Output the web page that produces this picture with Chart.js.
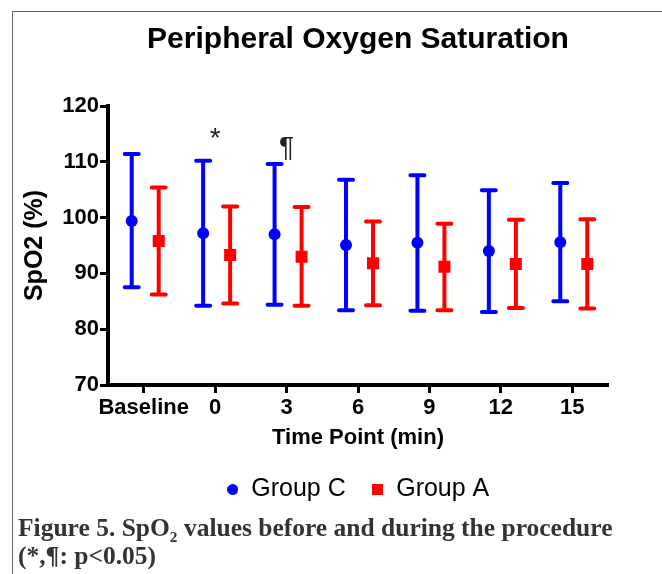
<!DOCTYPE html>
<html>
<head>
<meta charset="utf-8">
<script src="https://cdn.jsdelivr.net/npm/chart.js@4.4.0/dist/chart.umd.min.js"></script>
<style>
  html, body { margin: 0; padding: 0; background: #fff; }
  #wrap { position: relative; width: 662px; height: 574px; overflow: hidden; }
  #frame {
    position: absolute; left: 12px; top: 11px; right: -10px; bottom: -10px;
    border-top: 1.5px solid #666; border-left: 1.5px solid #666;
  }
  #box { position: absolute; left: 0; top: 0; width: 662px; height: 574px; }
  #caption {
    position: absolute; left: 18px; top: 514px;
    font: bold 25.5px "Liberation Serif", serif; line-height: 28px; color: #333;
    white-space: nowrap;
  }
  #caption sub { font-size: 60%; line-height: 0; }
</style>
</head>
<body>
<div id="wrap">
  <div id="frame"></div>
  <div id="box"><canvas id="spo2Chart"></canvas></div>
  <div id="caption">Figure 5. SpO<sub>2</sub> values before and during the procedure<br>(*,¶: p&lt;0.05)</div>
</div>
<script>
// data (mean and error bar ends)
const timeLabels = ["Baseline", "0", "3", "6", "9", "12", "15"];

const groupCMean = [99.4, 97.2, 97.0, 95.1, 95.5, 94.0, 95.6];
const groupCUpper = [111.4, 110.2, 109.6, 106.8, 107.6, 104.9, 106.2];
const groupCLower = [87.5, 84.2, 84.4, 83.4, 83.3, 83.1, 85.0];

const groupAMean = [95.8, 93.3, 93.0, 91.8, 91.2, 91.7, 91.7];
const groupAUpper = [105.4, 102.0, 101.9, 99.3, 98.9, 99.6, 99.7];
const groupALower = [86.2, 84.6, 84.2, 84.3, 83.4, 83.8, 83.7];

const yTicks = [70, 80, 90, 100, 110, 120];

// significance marks
const markAt = ["0", "3"];
const markText = ["*", "¶"];
const markLevel = [114.0, 112.4];

const BLUE = "#0000ff";
const RED = "#ff0000";
const SHIFT = [-12, 15]; // px, side by side like the original

function marker(shape, color, size) {
  const c = document.createElement("canvas");
  c.width = size;
  c.height = size;
  const g = c.getContext("2d");
  g.fillStyle = color;
  if (shape === "circle") {
    g.beginPath();
    g.arc(size / 2, size / 2, size / 2, 0, Math.PI * 2);
    g.fill();
  } else {
    g.fillRect(0, 0, size, size);
  }
  return c;
}
const legendMarks = [marker("circle", BLUE, 11), marker("rect", RED, 11)];

const errorBars = {
  id: "errorBars",
  afterDatasetsUpdate(chart) {
    chart.data.datasets.forEach((ds, i) => {
      chart.getDatasetMeta(i).data.forEach((pt) => {
        pt.x += SHIFT[i];
      });
    });
  },
  beforeDatasetsDraw(chart) {
    const ctx = chart.ctx;
    const y = chart.scales.y;
    chart.data.datasets.forEach((ds, i) => {
      const meta = chart.getDatasetMeta(i);
      ctx.save();
      ctx.strokeStyle = ds.backgroundColor;
      ctx.lineWidth = 4;
      ctx.lineCap = "round";
      meta.data.forEach((pt, j) => {
        const top = y.getPixelForValue(ds.upper[j]);
        const bot = y.getPixelForValue(ds.lower[j]);
        ctx.beginPath();
        ctx.moveTo(pt.x, top);
        ctx.lineTo(pt.x, bot);
        ctx.moveTo(pt.x - 7, top);
        ctx.lineTo(pt.x + 7, top);
        ctx.moveTo(pt.x - 7, bot);
        ctx.lineTo(pt.x + 7, bot);
        ctx.stroke();
      });
      ctx.restore();
    });
  },
  afterDatasetsDraw(chart) {
    const ctx = chart.ctx;
    const x = chart.scales.x;
    const y = chart.scales.y;
    ctx.save();
    ctx.fillStyle = "#222";
    ctx.font = '28px "Liberation Sans", Arial, sans-serif';
    ctx.textAlign = "center";
    ctx.textBaseline = "middle";
    markAt.forEach((lab, k) => {
      const px = x.getPixelForValue(timeLabels.indexOf(lab));
      ctx.fillText(markText[k], px, y.getPixelForValue(markLevel[k]));
    });
    ctx.restore();
  },
};

const ctx = document.getElementById("spo2Chart").getContext("2d");
new Chart(ctx, {
  type: "line",
  data: {
    labels: timeLabels,
    datasets: [
      {
        label: "Group C",
        data: groupCMean,
        upper: groupCUpper,
        lower: groupCLower,
        showLine: false,
        backgroundColor: BLUE,
        borderColor: BLUE,
        pointStyle: "circle",
        pointRadius: 6,
        pointBorderWidth: 0,
      },
      {
        label: "Group A",
        data: groupAMean,
        upper: groupAUpper,
        lower: groupALower,
        showLine: false,
        backgroundColor: RED,
        borderColor: RED,
        pointStyle: "rect",
        pointRadius: 8.5,
        pointBorderWidth: 0,
      },
    ],
  },
  options: {
    responsive: true,
    maintainAspectRatio: false,
    animation: false,
    events: [],
    layout: { padding: { left: 14, right: 54, top: 22, bottom: 62 } },
    plugins: {
      tooltip: { enabled: false },
      title: {
        display: true,
        fullSize: false,
        text: "Peripheral Oxygen Saturation",
        color: "#000",
        font: { family: '"Liberation Sans", Arial, sans-serif', size: 30, weight: "bold" },
        padding: { top: 0, bottom: 48 },
      },
      legend: {
        position: "bottom",
        fullSize: false,
        labels: {
          usePointStyle: true,
          boxWidth: 12,
          boxHeight: 12,
          padding: 26,
          color: "#000",
          font: { family: '"Liberation Sans", Arial, sans-serif', size: 25 },
          generateLabels(chart) {
            return chart.data.datasets.map((ds, i) => ({
              text: ds.label,
              pointStyle: legendMarks[i],
              fillStyle: ds.backgroundColor,
              strokeStyle: ds.backgroundColor,
              lineWidth: 0,
              datasetIndex: i,
              hidden: false,
            }));
          },
        },
      },
    },
    scales: {
      x: {
        offset: true,
        grid: {
          display: true,
          offset: false,
          drawOnChartArea: false,
          drawTicks: true,
          tickLength: 8,
          tickWidth: 3,
          tickColor: "#000",
        },
        border: { display: true, width: 4, color: "#000" },
        ticks: {
          color: "#000",
          padding: 2,
          autoSkip: false,
          maxRotation: 0,
          minRotation: 0,
          font: { family: '"Liberation Sans", Arial, sans-serif', size: 22, weight: "bold" },
        },
        title: {
          display: true,
          text: "Time Point (min)",
          color: "#000",
          font: { family: '"Liberation Sans", Arial, sans-serif', size: 22, weight: "bold" },
          padding: { top: 0, bottom: 0 },
        },
        afterFit(scale) {
          scale.height = 66;
        },
      },
      y: {
        min: 70,
        max: 120,
        afterBuildTicks(scale) {
          scale.ticks = yTicks.map((v) => ({ value: v }));
        },
        grid: {
          drawOnChartArea: false,
          drawTicks: true,
          tickLength: 8,
          tickWidth: 3,
          tickColor: "#000",
        },
        border: { display: true, width: 4, color: "#000" },
        ticks: {
          color: "#000",
          padding: 1,
          font: { family: '"Liberation Sans", Arial, sans-serif', size: 22, weight: "bold" },
        },
        title: {
          display: true,
          text: "SpO2 (%)",
          color: "#000",
          font: { family: '"Liberation Sans", Arial, sans-serif', size: 25, weight: "bold" },
          padding: { top: 6, bottom: 0 },
        },
        afterFit(scale) {
          scale.width = 94;
        },
      },
    },
  },
  plugins: [errorBars],
});
</script>
</body>
</html>
